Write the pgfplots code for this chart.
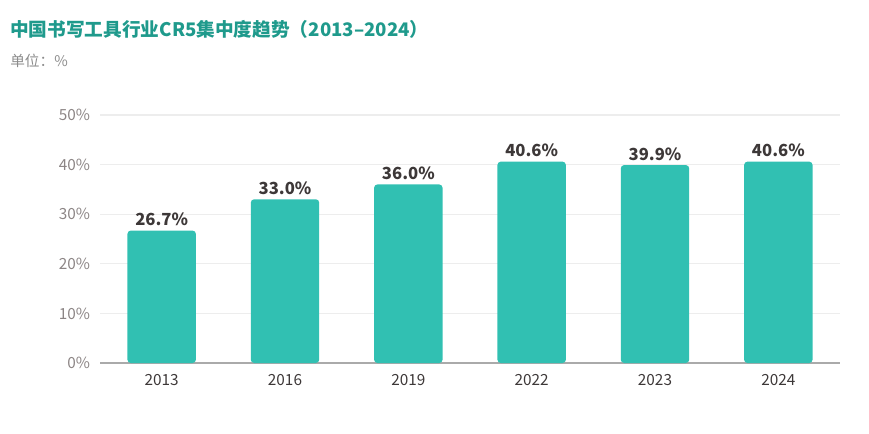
\documentclass[border=0pt]{standalone}
\usepackage{pgfplots}
\pgfplotsset{compat=1.18}
\usepackage{fontspec}
\setmainfont{Noto Sans CJK SC}
\definecolor{barc}{HTML}{31C0B2}
\definecolor{titlec}{HTML}{1F9A8C}
\definecolor{subc}{HTML}{8C8C8C}
\definecolor{labc}{HTML}{3D3838}
\definecolor{ytc}{HTML}{8C8585}
\definecolor{gridc}{HTML}{EDEDED}
\definecolor{axc}{HTML}{AAAAAA}
\begin{document}
\begin{tikzpicture}[x=0.75pt,y=0.75pt]
\path (0,0) rectangle (869,433);
\node[anchor=base west,inner sep=0pt,text=titlec,font=\fontsize{14pt}{16pt}\selectfont\bfseries] at (10,433-37) {中国书写工具行业CR5集中度趋势（2013–2024）};
\node[anchor=base west,inner sep=0pt,text=subc,font=\fontsize{11pt}{12pt}\selectfont] at (10,433-67) {单位：\%};
\begin{axis}[
  at={(75pt,52.5pt)}, anchor=south west,
  scale only axis, width=555pt, height=186pt,
  xmin=-0.5, xmax=5.5, ymin=0, ymax=50,
  xtick=data, xticklabels={2013,2016,2019,2022,2023,2024},
  ytick={0,10,20,30,40,50},
  yticklabel={\pgfmathprintnumber{\tick}\%},
  /pgf/number format/assume math mode=true,
  ymajorgrids, grid style={gridc, line width=0.8pt},
  axis x line*=bottom,
  axis y line*=left,
  x axis line style={draw=axc, line width=1pt, -},
  y axis line style={draw=none},
  major tick length=0pt,
  tick style={draw=none},
  xticklabel style={text=labc, font=\fontsize{11.5pt}{13pt}\selectfont, yshift=-5pt},
  yticklabel style={text=ytc, font=\fontsize{11.5pt}{13pt}\selectfont, xshift=-4pt},
  ybar, bar width=0.555,
  nodes near coords={\pgfmathprintnumber[fixed,fixed zerofill,precision=1]{\pgfplotspointmeta}\%},
  nodes near coords style={text=labc, font=\fontsize{12.5pt}{14pt}\selectfont\bfseries, yshift=0pt},
  clip=false,
]
\addplot[fill=barc, draw=none, rounded corners=2.5pt] coordinates {(0,26.7) (1,33.0) (2,36.0) (3,40.6) (4,39.9) (5,40.6)};
\end{axis}
\end{tikzpicture}
\end{document}
